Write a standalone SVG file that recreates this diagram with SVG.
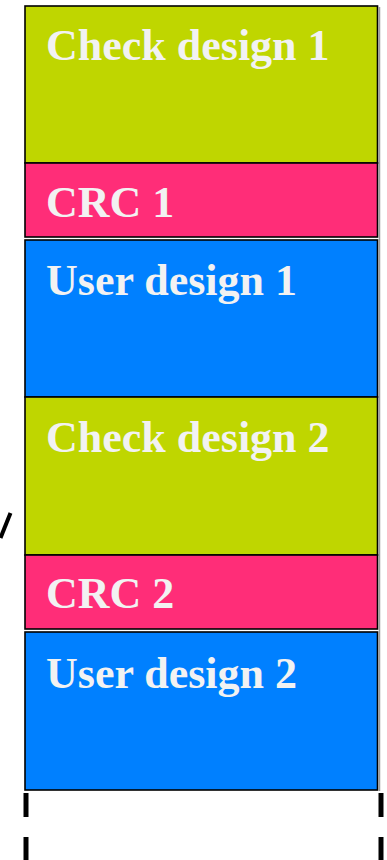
<svg xmlns="http://www.w3.org/2000/svg" width="387" height="860" viewBox="0 0 387 860">
<style>
.box{stroke:#000;stroke-width:1.6}
.chk{fill:#bfd600}
.crc{fill:#ff2d78}
.usr{fill:#0080ff}
.lbl{font-family:"Liberation Serif","Times New Roman",serif;font-weight:bold;font-size:44px;fill:#f2f2f2}
.dash{stroke:#000;stroke-width:5}
</style>
<rect width="387" height="860" fill="#fff"/>
<line x1="379.5" y1="7" x2="379.5" y2="791" stroke="#9a9a9a" stroke-width="1.5"/>
<g id="check1"><rect class="box chk" x="25" y="6" width="352.5" height="157"/><text class="lbl" x="46" y="60">Check design 1</text></g>
<g id="crc1"><rect class="box crc" x="25" y="163" width="352.5" height="74"/><text class="lbl" x="46" y="217">CRC 1</text></g>
<g id="user1"><rect class="box usr" x="25" y="240" width="352.5" height="157"/><text class="lbl" x="46" y="295">User design 1</text></g>
<g id="check2"><rect class="box chk" x="25" y="397" width="352.5" height="158"/><text class="lbl" x="46" y="452">Check design 2</text></g>
<g id="crc2"><rect class="box crc" x="25" y="555" width="352.5" height="74"/><text class="lbl" x="46" y="608">CRC 2</text></g>
<g id="user2"><rect class="box usr" x="25" y="632" width="352.5" height="158"/><text class="lbl" x="46" y="688">User design 2</text></g>
<g id="connectors">
<line class="dash" x1="26" y1="793" x2="26" y2="817"/>
<line class="dash" x1="26" y1="837" x2="26" y2="860"/>
<line class="dash" x1="381" y1="793" x2="381" y2="817"/>
<line class="dash" x1="381" y1="837" x2="381" y2="860"/>
</g>
<line x1="0.5" y1="538" x2="10.5" y2="513" stroke="#000" stroke-width="4"/>
</svg>
